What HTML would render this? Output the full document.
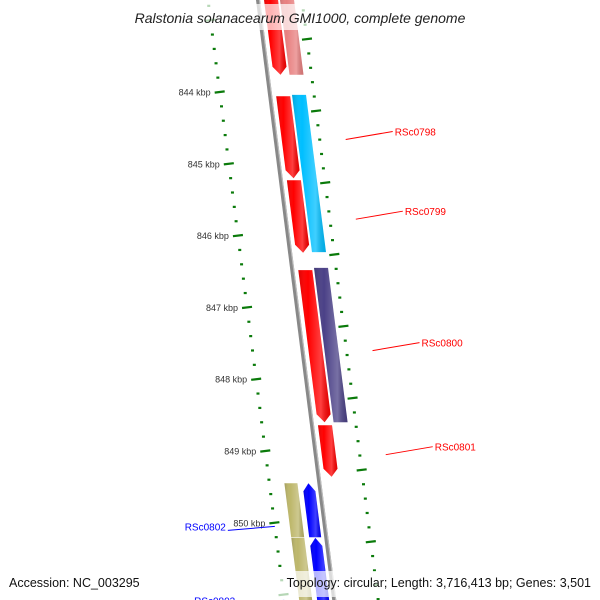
<!DOCTYPE html>
<html><head><meta charset="utf-8"><style>
body{margin:0;background:#fff}
svg{display:block;font-family:"Liberation Sans","DejaVu Sans",sans-serif}
</style></head><body>
<svg id="map" width="600" height="600" viewBox="0 0 600 600" xmlns="http://www.w3.org/2000/svg">
<defs>
<linearGradient id="shade" x1="0" x2="1" y1="0" y2="0">
<stop offset="0" stop-color="#000" stop-opacity="0.15"/>
<stop offset="0.3" stop-color="#fff" stop-opacity="0.0"/>
<stop offset="0.7" stop-color="#fff" stop-opacity="0.25"/>
<stop offset="1" stop-color="#000" stop-opacity="0.1"/>
</linearGradient>
</defs>
<g id="ticks"></g>
<g id="backbone"></g>
<g id="genes"></g>
<g id="labels"></g>
<rect x="110" y="4" width="380" height="26" fill="#fff" opacity="0.7"/>
<text x="300" y="23" text-anchor="middle" font-size="14" font-style="italic" fill="#222">Ralstonia solanacearum GMI1000, complete genome</text>
<rect x="258" y="571" width="340" height="26" fill="#fff" opacity="0.7"/>
<text x="9" y="587" font-size="12.5" fill="#111">Accession: NC_003295</text>
<text x="591" y="587" text-anchor="end" font-size="12.5" fill="#111">Topology: circular; Length: 3,716,413 bp; Genes: 3,501</text>
</svg>
<script>
const geneNames=["g1","g2","g3","g4","g5","pink","RSc0798","RSc0800","g6","g7","RSc0802","RSc0803"];
const geneStarts=[842.6,844.06,845.23,846.48,848.64,842.6,844.04,846.45,849.45,850.21,849.45,850.21];
const geneEnds=[843.76,845.20,846.24,848.60,849.36,843.76,846.23,848.60,850.20,851.2,850.20,851.2];
const geneStrands=[1,1,1,1,1,1,1,1,-1,-1,-1,-1];
const geneTracks=[0,0,0,0,0,1,1,1,0,0,1,1];
const geneColors=["#ff0000","#ff0000","#ff0000","#ff0000","#ff0000","#e88080","#00bfff","#4b4187","#0000ff","#0000ff","#bdb76b","#bdb76b"];
const geneArrow=[1,1,1,1,1,0,0,0,1,1,0,0];
const labelNames=["RSc0798","RSc0799","RSc0800","RSc0801","RSc0802","RSc0803"];
const labelKbp=[844.55,845.66,847.49,848.94,850.05,851.08];
const labelSide=[1,1,1,1,-1,-1];
const tickMajor=[844,845,846,847,848,849,850];

const NS="http://www.w3.org/2000/svg";
function yk(k){return 92+(k-844)*71.8;}
function xb(y){return 258+0.127*y;}
function mk(tag,attrs,parent){const e=document.createElementNS(NS,tag);for(const k in attrs)e.setAttribute(k,attrs[k]);parent.appendChild(e);return e;}
const G=document.getElementById('genes'),T=document.getElementById('ticks'),L=document.getElementById('labels'),B=document.getElementById('backbone');

// backbone
const bb=mk('line',{x1:xb(-10),y1:-10,x2:xb(610),y2:610,stroke:'#888','stroke-width':4},B);


mk('line',{x1:xb(-10)+1.5,y1:-10,x2:xb(610)+1.5,y2:610,stroke:'#bbb','stroke-width':1.2},B);

// ticks
for(let k=842.6;k<=851.4;k+=0.2){
  const kk=Math.round(k*10)/10;const y=yk(kk);
  const major=Math.abs(kk-Math.round(kk))<0.01;
  const x=xb(y)-50;
  const d=mk('line',{x1:x-(major?5:1.5),y1:y+(major?0.6:0),x2:x+(major?5:1.5),y2:y-(major?0.6:0),stroke:'#0a7a0a','stroke-width':2.2},T);
  
  
}
for(let k=842.5;k<=851.4;k+=0.2){
  const kk=Math.round(k*10)/10;const y=yk(kk)-17;
  const major=Math.abs(kk*2-Math.round(kk*2))<0.01 && Math.abs(kk-Math.round(kk))>0.01 || false;
  const x=xb(y)+44;
  const isMaj=Math.abs(((kk-842.5)%1))<0.01;
  const d=mk('line',{x1:x-(isMaj?5:1.5),y1:y+(isMaj?0.6:0),x2:x+(isMaj?5:1.5),y2:y-(isMaj?0.6:0),stroke:'#0a7a0a','stroke-width':2.2},T);
  
  
}
tickMajor.forEach(k=>{const y=yk(k);
  const t=mk('text',{x:xb(y)-59,y:y+3.5,'text-anchor':'end','font-size':9,fill:'#333'},T);
  t.textContent=k+' kbp';
  
  
});

// genes
const offs=[[6,20],[22,36]];
const revOffs=[[-17,-5],[-35,-22]];
for(let i=0;i<geneNames.length;i++){
  const y1=Math.max(yk(geneStarts[i]),-5),y2=Math.min(yk(geneEnds[i]),605);
  const o=geneStrands[i]>0?offs[geneTracks[i]]:revOffs[geneTracks[i]];
  const a=o[0],b=o[1],m=(a+b)/2;let pts;
  if(geneArrow[i]){
    if(geneStrands[i]>0){const yb=y2-8;
      pts=[[xb(y1)+a,y1],[xb(y1)+b,y1],[xb(yb)+b,yb],[xb(y2)+m,y2],[xb(yb)+a,yb]];
    }else{const yb=y1+8;
      pts=[[xb(y1)+m,y1],[xb(yb)+b,yb],[xb(y2)+b,y2],[xb(y2)+a,y2],[xb(yb)+a,yb]];}
  }else pts=[[xb(y1)+a,y1],[xb(y1)+b,y1],[xb(y2)+b,y2],[xb(y2)+a,y2]];
  const p=pts.map(q=>q[0].toFixed(1)+','+q[1].toFixed(1)).join(' ');
  const g=mk('polygon',{points:p,fill:geneColors[i]},G);
  
  
  mk('polygon',{points:p,fill:'url(#shade)'},G);
}

// labels
for(let i=0;i<labelNames.length;i++){
  const y=yk(labelKbp[i]);
  const col=labelSide[i]>0?'#ff0000':'#0000ff';
  let x1,x2,tx,anchor;
  if(labelSide[i]>0){x1=xb(y)+71;x2=x1+47;tx=x2+2;anchor='start';
    mk('line',{x1:x1,y1:y+8,x2:x2,y2:y,stroke:col,'stroke-width':1},L);}
  else{x2=xb(y)-50;x1=x2-47;tx=x1-2;anchor='end';
    mk('line',{x1:x1,y1:y+4,x2:x2,y2:y,stroke:col,'stroke-width':1},L);}
  const t=mk('text',{x:tx,y:y+4,'text-anchor':anchor,'font-size':10,fill:col},L);
  t.textContent=labelNames[i];
  
  
}
</script>
</body></html>
